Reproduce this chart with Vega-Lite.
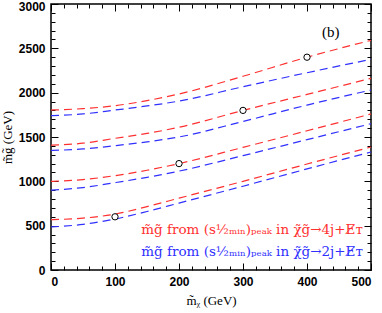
{
  "$schema": "https://vega.github.io/schema/vega-lite/v6.json",
  "width": 320,
  "height": 266,
  "autosize": "none",
  "padding": {"left": 51, "top": 4, "right": 11, "bottom": 43},
  "background": "white",
  "config": {
    "view": {"stroke": "black", "strokeWidth": 1.5},
    "axis": {
      "grid": false,
      "domain": false,
      "tickColor": "black",
      "tickWidth": 1,
      "labelColor": "black",
      "labelFont": "Liberation Sans",
      "labelFontSize": 12,
      "labelFontWeight": "bold",
      "titleColor": "black",
      "titleFont": "Liberation Serif",
      "titleFontSize": 13,
      "titleFontWeight": "normal"
    }
  },
  "datasets": {
    "curves": [
      {"mchi": 0, "mg": 568, "curve": "a4", "mode": "4j"},
      {"mchi": 50, "mg": 585, "curve": "a4", "mode": "4j"},
      {"mchi": 100, "mg": 630, "curve": "a4", "mode": "4j"},
      {"mchi": 150, "mg": 715, "curve": "a4", "mode": "4j"},
      {"mchi": 200, "mg": 810, "curve": "a4", "mode": "4j"},
      {"mchi": 300, "mg": 1000, "curve": "a4", "mode": "4j"},
      {"mchi": 400, "mg": 1195, "curve": "a4", "mode": "4j"},
      {"mchi": 500, "mg": 1387, "curve": "a4", "mode": "4j"},
      {"mchi": 0, "mg": 485, "curve": "a2", "mode": "2j"},
      {"mchi": 50, "mg": 515, "curve": "a2", "mode": "2j"},
      {"mchi": 100, "mg": 575, "curve": "a2", "mode": "2j"},
      {"mchi": 150, "mg": 660, "curve": "a2", "mode": "2j"},
      {"mchi": 200, "mg": 755, "curve": "a2", "mode": "2j"},
      {"mchi": 300, "mg": 945, "curve": "a2", "mode": "2j"},
      {"mchi": 400, "mg": 1140, "curve": "a2", "mode": "2j"},
      {"mchi": 500, "mg": 1331, "curve": "a2", "mode": "2j"},
      {"mchi": 0, "mg": 1000, "curve": "b4", "mode": "4j"},
      {"mchi": 50, "mg": 1020, "curve": "b4", "mode": "4j"},
      {"mchi": 100, "mg": 1064, "curve": "b4", "mode": "4j"},
      {"mchi": 150, "mg": 1125, "curve": "b4", "mode": "4j"},
      {"mchi": 200, "mg": 1200, "curve": "b4", "mode": "4j"},
      {"mchi": 300, "mg": 1383, "curve": "b4", "mode": "4j"},
      {"mchi": 400, "mg": 1570, "curve": "b4", "mode": "4j"},
      {"mchi": 500, "mg": 1760, "curve": "b4", "mode": "4j"},
      {"mchi": 0, "mg": 900, "curve": "b2", "mode": "2j"},
      {"mchi": 50, "mg": 930, "curve": "b2", "mode": "2j"},
      {"mchi": 100, "mg": 985, "curve": "b2", "mode": "2j"},
      {"mchi": 150, "mg": 1045, "curve": "b2", "mode": "2j"},
      {"mchi": 200, "mg": 1115, "curve": "b2", "mode": "2j"},
      {"mchi": 300, "mg": 1290, "curve": "b2", "mode": "2j"},
      {"mchi": 400, "mg": 1470, "curve": "b2", "mode": "2j"},
      {"mchi": 500, "mg": 1650, "curve": "b2", "mode": "2j"},
      {"mchi": 0, "mg": 1407, "curve": "c4", "mode": "4j"},
      {"mchi": 50, "mg": 1430, "curve": "c4", "mode": "4j"},
      {"mchi": 100, "mg": 1485, "curve": "c4", "mode": "4j"},
      {"mchi": 150, "mg": 1540, "curve": "c4", "mode": "4j"},
      {"mchi": 200, "mg": 1610, "curve": "c4", "mode": "4j"},
      {"mchi": 300, "mg": 1800, "curve": "c4", "mode": "4j"},
      {"mchi": 400, "mg": 1980, "curve": "c4", "mode": "4j"},
      {"mchi": 500, "mg": 2162, "curve": "c4", "mode": "4j"},
      {"mchi": 0, "mg": 1348, "curve": "c2", "mode": "2j"},
      {"mchi": 50, "mg": 1365, "curve": "c2", "mode": "2j"},
      {"mchi": 100, "mg": 1402, "curve": "c2", "mode": "2j"},
      {"mchi": 150, "mg": 1445, "curve": "c2", "mode": "2j"},
      {"mchi": 200, "mg": 1500, "curve": "c2", "mode": "2j"},
      {"mchi": 300, "mg": 1675, "curve": "c2", "mode": "2j"},
      {"mchi": 400, "mg": 1860, "curve": "c2", "mode": "2j"},
      {"mchi": 500, "mg": 2030, "curve": "c2", "mode": "2j"},
      {"mchi": 0, "mg": 1804, "curve": "d4", "mode": "4j"},
      {"mchi": 50, "mg": 1820, "curve": "d4", "mode": "4j"},
      {"mchi": 100, "mg": 1853, "curve": "d4", "mode": "4j"},
      {"mchi": 150, "mg": 1910, "curve": "d4", "mode": "4j"},
      {"mchi": 200, "mg": 1985, "curve": "d4", "mode": "4j"},
      {"mchi": 300, "mg": 2185, "curve": "d4", "mode": "4j"},
      {"mchi": 400, "mg": 2400, "curve": "d4", "mode": "4j"},
      {"mchi": 500, "mg": 2590, "curve": "d4", "mode": "4j"},
      {"mchi": 0, "mg": 1741, "curve": "d2", "mode": "2j"},
      {"mchi": 50, "mg": 1760, "curve": "d2", "mode": "2j"},
      {"mchi": 100, "mg": 1804, "curve": "d2", "mode": "2j"},
      {"mchi": 150, "mg": 1850, "curve": "d2", "mode": "2j"},
      {"mchi": 200, "mg": 1905, "curve": "d2", "mode": "2j"},
      {"mchi": 300, "mg": 2067, "curve": "d2", "mode": "2j"},
      {"mchi": 400, "mg": 2225, "curve": "d2", "mode": "2j"},
      {"mchi": 500, "mg": 2376, "curve": "d2", "mode": "2j"}
    ],
    "truth": [
      {"mchi": 100, "mg": 600},
      {"mchi": 200, "mg": 1200},
      {"mchi": 300, "mg": 1800},
      {"mchi": 400, "mg": 2400}
    ],
    "one": [{}]
  },
  "resolve": {"axis": {"x": "independent", "y": "independent"}},
  "layer": [
    {
      "data": {"name": "curves"},
      "mark": {"type": "line", "strokeDash": [8, 5], "strokeWidth": 1.2, "interpolate": "monotone"},
      "encoding": {
        "x": {"field": "mchi", "type": "quantitative",
          "scale": {"domain": [0, 500], "nice": false, "zero": false},
          "axis": {"orient": "bottom", "offset": -7, "values": [0, 100, 200, 300, 400, 500], "format": "d", "tickSize": 7, "labelPadding": 6, "title": "m\u0303\u1d6a (GeV)", "titlePadding": 7}},
        "y": {"field": "mg", "type": "quantitative",
          "scale": {"domain": [0, 3000], "nice": false, "zero": false},
          "axis": {"orient": "left", "offset": -7, "values": [0, 500, 1000, 1500, 2000, 2500, 3000], "format": "d", "tickSize": 7, "labelPadding": 6,
            "labelOffset": {"condition": {"test": "datum.value === 3000", "value": 2}, "value": 0},
            "title": "m\u0303g\u0303 (GeV)", "titlePadding": 4}},
        "color": {"field": "mode", "type": "nominal", "scale": {"domain": ["4j", "2j"], "range": ["#ff3030", "#3030ff"]}, "legend": null},
        "detail": {"field": "curve"}
      }
    },
    {
      "data": {"name": "truth"},
      "mark": {"type": "point", "shape": "circle", "size": 40, "filled": false, "stroke": "black", "fill": "white", "fillOpacity": 1, "strokeWidth": 1},
      "encoding": {
        "x": {"field": "mchi", "type": "quantitative", "scale": {"domain": [0, 500], "nice": false, "zero": false},
          "axis": {"orient": "top", "offset": -7, "values": [0, 100, 200, 300, 400, 500], "tickSize": 7, "labels": false, "title": null}},
        "y": {"field": "mg", "type": "quantitative", "scale": {"domain": [0, 3000], "nice": false, "zero": false},
          "axis": {"orient": "right", "offset": -7, "values": [0, 500, 1000, 1500, 2000, 2500, 3000], "tickSize": 7, "labels": false, "title": null}}
      }
    },
    {
      "data": {"name": "one"},
      "mark": {"type": "text", "align": "left", "baseline": "middle", "font": "DejaVu Serif", "fontSize": 13.5, "color": "#ff3030"},
      "encoding": {
        "x": {"datum": 141, "type": "quantitative", "scale": {"domain": [0, 500], "nice": false, "zero": false},
          "axis": {"orient": "bottom", "offset": -4, "values": [20, 40, 60, 80, 120, 140, 160, 180, 220, 240, 260, 280, 320, 340, 360, 380, 420, 440, 460, 480], "tickSize": 4, "labels": false, "title": null}},
        "y": {"datum": 451, "type": "quantitative", "scale": {"domain": [0, 3000], "nice": false, "zero": false},
          "axis": {"orient": "left", "offset": -4, "values": [100, 200, 300, 400, 600, 700, 800, 900, 1100, 1200, 1300, 1400, 1600, 1700, 1800, 1900, 2100, 2200, 2300, 2400, 2600, 2700, 2800, 2900], "tickSize": 4, "labels": false, "title": null}},
        "text": {"value": "m\u0303g\u0303 from (s\u00bd\u2098\u1d62\u2099)\u209a\u2091\u2090\u2096 in \u03c7\u0303g\u0303\u21924j+E\u0338\u1d1b"}
      }
    },
    {
      "data": {"name": "one"},
      "mark": {"type": "text", "align": "left", "baseline": "middle", "font": "DejaVu Serif", "fontSize": 13.5, "color": "#3030ff"},
      "encoding": {
        "x": {"datum": 141, "type": "quantitative", "scale": {"domain": [0, 500], "nice": false, "zero": false},
          "axis": {"orient": "top", "offset": -4, "values": [20, 40, 60, 80, 120, 140, 160, 180, 220, 240, 260, 280, 320, 340, 360, 380, 420, 440, 460, 480], "tickSize": 4, "labels": false, "title": null}},
        "y": {"datum": 206, "type": "quantitative", "scale": {"domain": [0, 3000], "nice": false, "zero": false},
          "axis": {"orient": "right", "offset": -4, "values": [100, 200, 300, 400, 600, 700, 800, 900, 1100, 1200, 1300, 1400, 1600, 1700, 1800, 1900, 2100, 2200, 2300, 2400, 2600, 2700, 2800, 2900], "tickSize": 4, "labels": false, "title": null}},
        "text": {"value": "m\u0303g\u0303 from (s\u00bd\u2098\u1d62\u2099)\u209a\u2091\u2090\u2096 in \u03c7\u0303g\u0303\u21922j+E\u0338\u1d1b"}
      }
    },
    {
      "data": {"name": "one"},
      "mark": {"type": "text", "align": "center", "baseline": "middle", "font": "Liberation Serif", "fontSize": 15, "color": "black"},
      "encoding": {
        "x": {"datum": 437, "type": "quantitative", "scale": {"domain": [0, 500], "nice": false, "zero": false}, "axis": null},
        "y": {"datum": 2680, "type": "quantitative", "scale": {"domain": [0, 3000], "nice": false, "zero": false}, "axis": null},
        "text": {"value": "(b)"}
      }
    }
  ]
}
